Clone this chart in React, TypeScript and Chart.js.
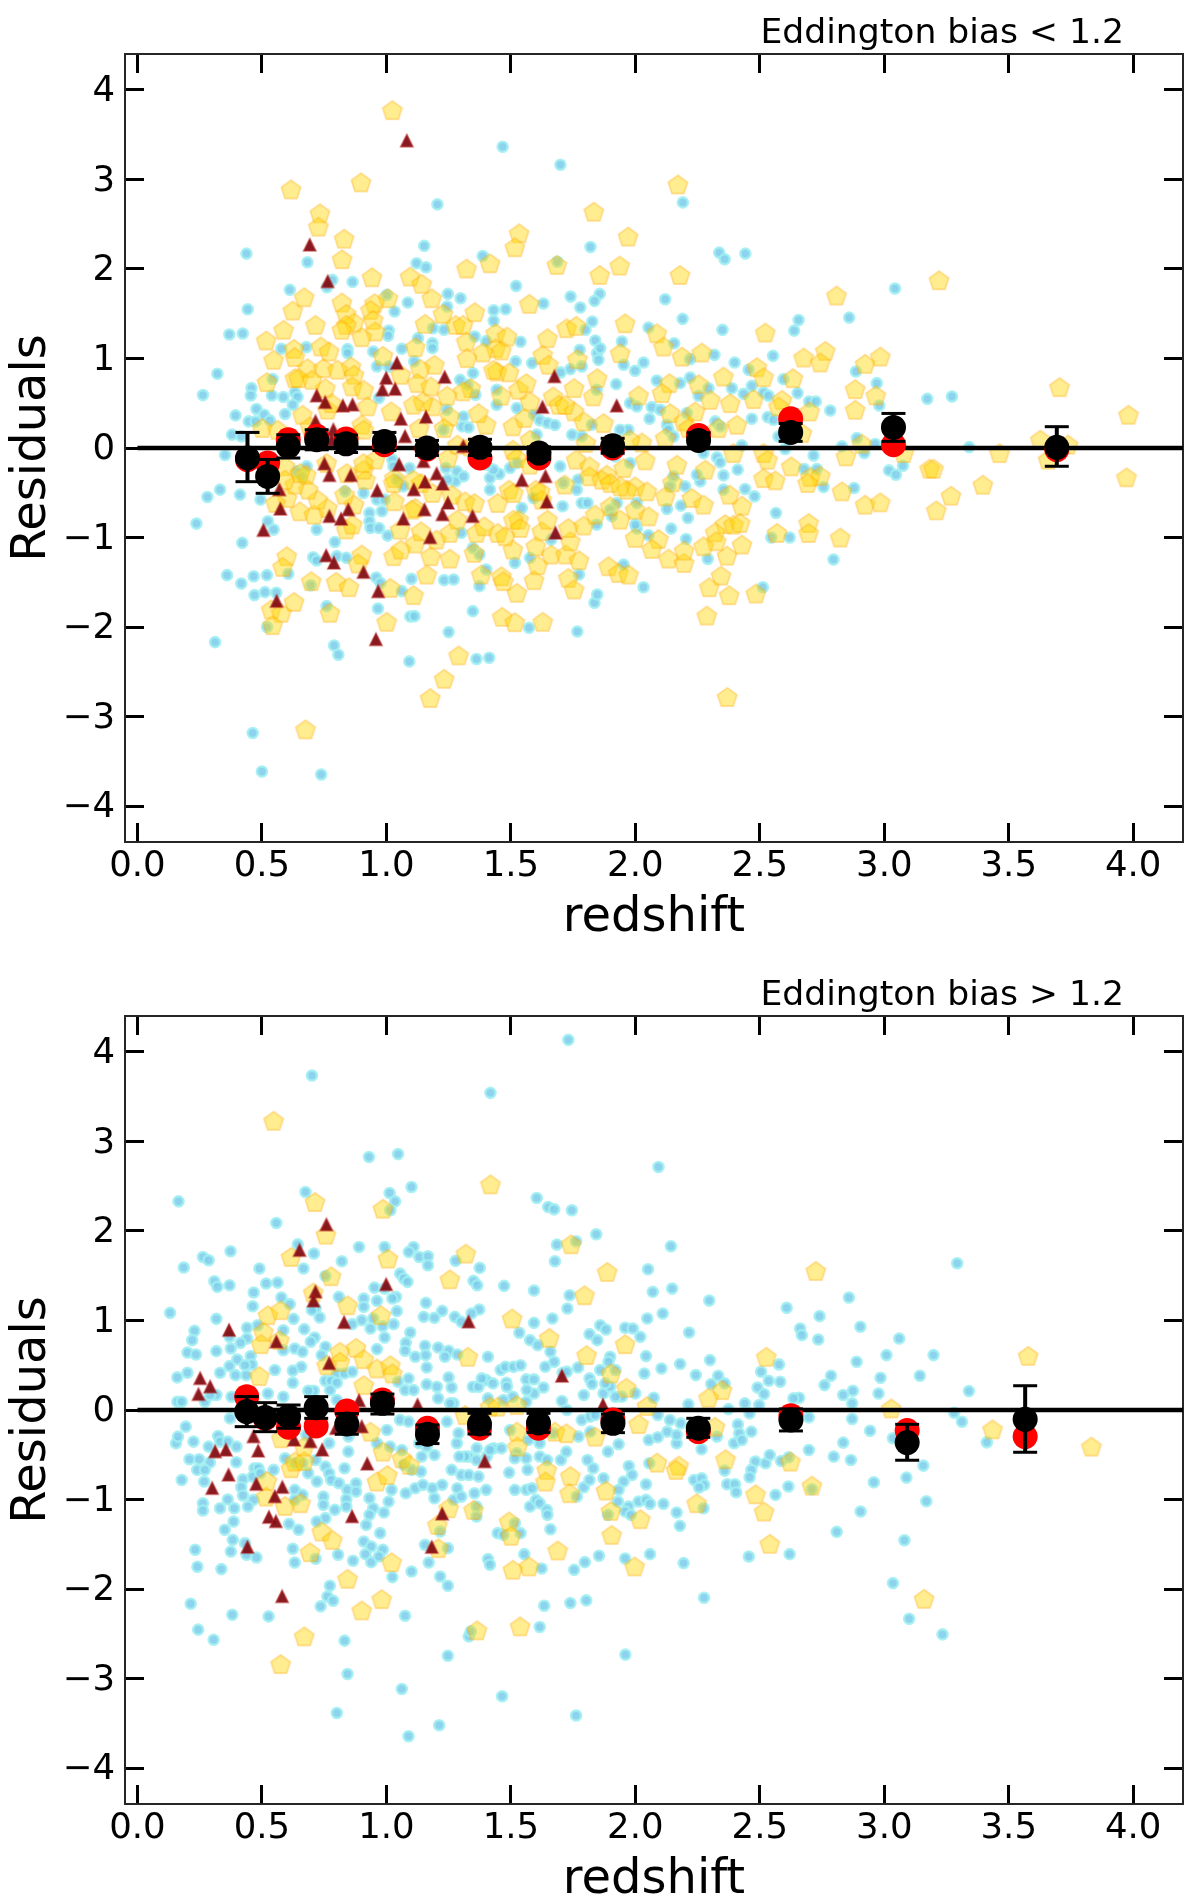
import React, { useEffect, useRef } from "react";
import { Chart, registerables } from "chart.js";

Chart.register(...registerables);

type P = number[];

const xTicks = [0, 0.5, 1, 1.5, 2, 2.5, 3, 3.5, 4];
const yTicks = [-4, -3, -2, -1, 0, 1, 2, 3, 4];

const topTitle = "Eddington bias < 1.2";
const bottomTitle = "Eddington bias > 1.2";

const topBinX = [.442,.523,.606,.72,.838,.992,1.163,1.376,1.613,1.909,2.254,2.624,3.037,3.693];
const topRed = [-.13,-.168,.092,.13,.10,.036,-.012,-.112,-.112,0,.14,.326,.036,-.018];
const topBlack = [-.112,-.317,.018,.092,.047,.073,0,.007,-.057,.025,.085,.174,.23,.007];
const topHi = [.174,-.128,.148,.204,.144,.174,.085,.097,.013,.108,.17,.274,.386,.238];
const topLo = [-.376,-.506,-.112,-.02,-.05,-.027,-.083,-.083,-.127,-.058,0,.074,.074,-.204];

const botBinX = [.439,.513,.607,.718,.841,.984,1.165,1.374,1.611,1.91,2.253,2.625,3.092,3.566];
const botRed = [.149,-.093,-.193,-.178,-.011,.112,-.204,-.204,-.204,-.111,-.241,-.063,-.23,-.297];
const botBlack = [-.018,-.085,-.074,.026,-.156,.074,-.271,-.156,-.145,-.149,-.204,-.111,-.364,-.104];
const botHi = [.15,.082,.056,.149,-.04,.178,-.167,-.037,-.037,-.045,-.093,.012,-.16,.271];
const botLo = [-.186,-.242,-.204,-.093,-.271,-.045,-.375,-.268,-.25,-.253,-.305,-.234,-.561,-.472];

const topBlue: P[] = [
[1.467,3.364],[1.699,3.164],[1.205,2.721],[1.152,2.257],[.438,2.171],[1.387,2.145],[1.82,2.245],[1.121,2.063],[1.159,2.019],[.683,2.074],[1.687,2.08],[.783,1.877],[.864,1.855],[.761,1.796],[.612,1.766],[1.521,1.81],[1.247,1.721],[1.298,1.673],[1.002,1.71],[1.74,1.691],[1.857,1.721],[1.631,1.613],[1.836,1.643],[1.086,1.625],[1.033,1.524],[.443,1.55],[1.779,1.569],[1.244,1.58],[1.431,1.539],[1.479,1.55],[1.431,1.42],[1.827,1.413],[.369,1.268],[.423,1.279],[1.01,1.312],[1.007,1.253],[1.187,1.338],[1.231,1.32],[1.8,1.32],[1.355,1.245],[1.401,1.193],[1.539,1.186],[1.839,1.2],[1.185,1.171],[1.185,1.115],[1.127,1.227],[.578,1.108],[.678,1.126],[.844,1.104],[.844,1.06],[.947,1.078],[1.062,1.108],[.321,.829],[1.777,1.097],[1.112,.967],[1.519,.967],[1.585,.948],[1.846,1.06],[.962,.911],[1.009,.911],[1.348,.836],[1.739,.881],[1.785,.911],[1.7,.844],[.543,.77],[.458,.669],[.455,.587],[.263,.591],[.54,.587],[.586,.569],[.632,.621],[.643,.569],[.624,.483],[.478,.435],[.394,.364],[.509,.372],[.593,.379],[.447,.297],[.475,.297],[.532,.309],[.97,.558],[1.358,.595],[1.524,.446],[1.593,.372],[1.616,.309],[1.647,.279],[1.677,.257],[1.746,.149],[1.785,.13],[.38,.149],[.417,.13],[.352,-.078],
[.332,-.465],[.281,-.547],[.412,-.521],[.494,-.577],[.237,-.844],[.524,-.818],[.547,-.911],[.72,-.911],[.421,-1.06],[.793,-1.049],[.706,-1.22],[.72,-1.257],[.801,-1.208],[.839,-1.227],[.36,-1.42],[.417,-1.513],[.467,-1.432],[.52,-1.42],[.606,-1.405],[.47,-1.643],[.512,-1.61],[.558,-1.617],[.696,-1.532],[.959,-1.446],[.976,-1.506],[1.101,-1.461],[1.232,-1.476],[1.27,-1.469],[1.401,-1.357],[1.374,-1.543],[1.062,-1.598],[.76,-1.766],[.966,-1.792],[1.096,-1.881],[1.113,-1.878],[1.347,-1.822],[1.573,-2.008],[1.767,-2.049],[1.25,-2.056],[.521,-2.0],[.312,-2.168],[.79,-2.205],[.807,-2.309],[1.092,-2.383],[1.362,-2.357],[1.413,-2.342],[.463,-3.183],[.5,-3.613],[.738,-3.647],[1.836,-1.729],[1.847,-1.636],[1.516,-1.283],[1.577,-1.227],[1.774,-1.413],[1.374,-1.19],[1.347,-1.116],[1.662,-1.023],[1.301,-.948],[.932,-.725],[.932,-.818],[.936,-.893],[.97,-.893],[1.005,-.978],[.982,-.707],[.962,-.577],[.993,-.577],[1.239,-.223],[1.278,-.372],[1.093,-.223],[1.416,-.465],[1.247,-.353],[1.708,-.651],[1.785,-.614],[1.808,-.614],[1.77,-.354],[1.454,-.29],[1.024,-.13],[1.447,-.28],[1.416,-.335],
[1.845,1.207],[1.859,1.114],[1.852,.984],[.392,.122],[.426,.11],[1.296,.761],[1.326,.705],[1.443,.65],[1.517,.445],[1.443,.482],[1.845,.65],[1.972,.204],[1.745,.148],[1.825,.26],[1.243,.427],[1.31,.352],[1.305,.241],[1.33,.23],[1.229,.204],[.68,-.205],[.64,-.261],[.66,-.317],[.834,-.484],[.908,-.503],[.928,-.707],[.981,-.707],[.934,-.837],[.961,-.893],[1.001,-.967],[1.028,-.205],[1.042,-.354],[1.068,-.428],[1.242,-.224],[1.283,-.261],[1.31,-.317],[1.43,-.242],[1.457,-.298],[1.403,-.187],[1.497,-.224],[1.524,-.168],[1.417,-.466],[1.544,-.67],[1.591,-.558],[1.711,-.651],[1.772,-.614],[1.698,-.205],[1.765,-.373],[1.711,-.391],[1.845,-.856],[1.765,-.466],[1.604,.149],[1.852,-1.637],[1.832,-1.737],
[1.939,.204],[1.966,.211],[2.12,1.661],[2.19,1.442],[2.35,1.319],[2.656,1.43],[2.638,1.311],[2.859,1.456],[2.053,1.345],[1.946,1.189],[2.156,1.17],[2.318,1.04],[2.553,1.029],[2.033,.955],[1.999,.862],[2.399,.955],[1.953,.929],[2.22,.992],[2.886,.854],[2.455,.873],[2.97,.724],[2.086,.754],[2.22,.787],[2.18,.724],[2.595,.769],[2.468,.694],[2.388,.668],[1.923,.713],[2.294,.668],[2.254,.583],[1.979,.501],[2.006,.464],[2.066,.456],[2.1,.427],[2.435,.605],[2.515,.62],[2.535,.583],[2.652,.613],[3.173,.549],[3.272,.575],[2.98,.475],[2.698,.52],[2.725,.52],[2.783,.419],[2.057,.326],[2.468,.326],[2.532,.345],[2.555,.315],[2.127,.259],[2.321,.297],[2.341,.241],[2.575,.129],[2.602,-.012],[2.428,.029],[2.83,.018],[2.89,.111],[2.92,-.057],[2.964,.044],[3.341,.01],[2.716,-.083],[2.328,-.105],[2.341,-.161],[2.274,-.057],[3.075,-.198],[3.019,-.25],[3.047,-.298],[2.411,-.242],[2.354,-.306],[2.729,-.235],[2.678,-.235],[2.261,-.373],[2.247,-.298],[2.354,-.465],[2.441,-.458],[2.479,-.54],[2.756,-.436],[2.879,-.447],[2.2,-.428],[2.183,-.644],[2.127,-.681],[2.211,-.781],[2.144,-.9],[2.204,-1.016],[2.053,-.975],[2.006,-.9],[2.565,-.726],[2.546,-1.0],[2.62,-1.0],[2.796,-1.246],[2.291,-1.239],[2.512,-1.555],[2.033,-1.555],[1.953,-1.302],[2.207,.39],[2.133,.204],[2.153,.129],[1.919,-.094],[1.979,-.168],[1.926,-.614],[1.899,-.689],[2.006,-.614],[2.0,-.856],[1.906,-.763],[2.14,-.428],[2.153,-.317],
[2.191,2.743],[2.337,2.182],[2.359,2.108],[2.442,2.171],[3.043,1.781],[1.867,1.721],[1.859,-1.636],
];

const topYellow: P[] = [
[1.024,3.773],[.617,2.888],[.898,2.967],[1.833,2.639],[.733,2.621],[.727,2.472],[1.533,2.398],[1.516,2.242],[.83,2.338],[.822,2.108],[1.322,2.004],[1.416,2.063],[1.685,2.045],[1.095,1.914],[1.142,1.833],[.942,1.907],[1.857,1.933],[.67,1.684],[1.182,1.673],[1.006,1.673],[.821,1.625],[.624,1.535],[.952,1.617],[1.574,1.61],[1.355,1.517],[1.227,1.498],[.839,1.498],[.936,1.543],[.715,1.375],[1.155,1.387],[.947,1.431],[.587,1.32],[.87,1.401],[.839,1.375],[.821,1.32],[1.278,1.375],[1.308,1.375],[1.724,1.338],[1.762,1.364],[.955,1.301],[.901,1.238],[1.439,1.283],[1.485,1.245],[1.647,1.227],[.517,1.201],[1.321,1.19],[.737,1.134],[1.116,1.126],[1.439,1.115],[1.462,1.089],[.77,1.078],[.629,1.108],[.632,1.015],[.547,.985],[1.628,1.041],[1.324,1.004],[1.388,1.067],[.986,1.03],[1.767,.993],[1.651,.929],[.858,.911],[.683,.892],[1.193,.929],[1.136,.885],[.747,.892],[.804,.874],[1.444,.855],[1.493,.844],[.632,.781],[.647,.781],[.52,.736],[.87,.818],[1.847,.781],[1.124,.725],[1.178,.688],[1.058,.818],[.755,.669],[.701,.762],[.863,.688],[.909,.651],[1.339,.669],[1.308,.632],[1.244,.584],[1.531,.651],[1.562,.725],[1.754,.669],[1.577,.52],[1.462,.584],[1.67,.576],[1.693,.483],[1.754,.409],[1.831,.576],[1.019,.409],[.924,.465],[1.185,.465],[1.147,.52],[1.109,.483],[.663,.372],[.763,.428],[.901,.26],[1.401,.26],[1.37,.39],[1.255,.353],[1.132,.223],[1.231,.223],[.501,.223],[1.508,.242],[1.555,.335],[1.793,.297],[.909,.204],[.563,.204],[1.285,.037],[1.508,-.019],[1.577,.093],[1.801,.056],[.955,-.13],[1.247,-.112],[1.524,-.112],[1.762,-.13],[1.577,-.186],[1.816,-.204],[.593,-.204],
[.6,-1.208],[.583,-1.328],[.901,-1.19],[.886,-1.29],[1.029,-1.208],[1.058,-1.134],[1.116,-1.067],[1.178,-1.208],[1.178,-1.19],[1.255,-1.235],[1.201,-1.023],[1.162,-1.413],[1.381,-1.413],[1.462,-1.431],[1.47,-1.487],[1.593,-1.476],[1.731,-1.45],[1.754,-1.58],[1.524,-1.617],[1.662,-1.19],[1.72,-1.19],[1.774,-1.253],[1.608,-1.309],[1.352,-1.171],[1.508,-1.134],[1.739,-1.041],[1.731,-.893],[1.793,-.866],[1.839,-.744],[1.624,-.93],[1.6,-1.097],[1.647,-.8],[.698,-1.487],[.798,-1.495],[.85,-1.554],[1.016,-1.562],[1.109,-1.643],[.629,-1.718],[.537,-1.803],[.578,-1.84],[.773,-1.84],[.77,-1.85],[.543,-1.978],[1.001,-1.941],[1.465,-1.885],[1.516,-1.945],[1.628,-1.941],[1.29,-2.316],[1.232,-2.577],[1.176,-2.792],[.675,-3.142],[.652,-.707],[.709,-.744],[.763,-.67],[.839,-.91],[.863,-.855],[.87,-.632],[.724,-.577],[.601,-.558],[.555,-.613],[1.055,-.912],[1.047,-.893],[1.255,-.948],[1.116,-.67],[1.139,-.93],[1.032,-.595],[1.285,-.8],[1.362,-.948],[1.447,-.614],[1.447,-.948],[1.493,-.465],[1.6,-.465],[1.531,-.8],[1.624,-.577],[1.716,-.409],[1.816,-.316],[1.477,-.985],[1.316,-.595],[1.262,-.521],[1.354,-.614],[1.393,-.874],[1.139,-.391],[1.185,-.502],[1.032,-.335],[.916,-.354],[.832,-.521],[.686,-.465],[.632,-.409],[.593,-.354],[.678,-.298],[.909,-.242],
[.693,.241],[.66,.371],[.78,.501],[.868,.78],[.76,.668],[.921,.445],[1.021,.408],[1.176,.445],[1.243,.594],[1.176,.724],[1.122,.873],[1.196,.929],[1.062,.836],[1.343,.668],[1.31,.631],[1.43,.873],[1.484,.854],[1.564,.743],[1.631,1.04],[1.651,.91],[1.524,.65],[1.584,.538],[1.671,.557],[1.718,.482],[1.765,.39],[1.792,.297],[1.872,.278],[1.758,.687],[1.839,.575],[1.845,.799],[1.403,.278],[1.37,.408],[1.256,.352],[1.189,.464],[1.129,.222],[1.51,.241],[1.557,.315],[1.229,.222],[1.249,.334],[1.51,-.019],[1.336,.018],[.908,-.168],[.955,-.131],[.76,-.168],[.586,-.242],[.653,-.28],[.693,-.503],[.606,-.558],[.653,-.707],[.72,-.726],[.841,-.28],[.914,-.354],[.834,-.503],[.874,-.614],[.76,-.651],[1.028,-.391],[1.035,-.596],[1.109,-.354],[1.189,-.503],[1.269,-.521],[1.102,-.688],[1.31,-.614],[1.363,-.614],[1.443,-.614],[1.296,-.819],[1.249,-.93],[1.135,-.949],[1.048,-.912],[.861,-.893],[1.45,-.93],[1.51,-.8],[1.537,-.893],[1.731,-.893],[1.792,-.874],[1.845,-.744],[1.899,-.651],[1.885,-.298],[1.865,-.354],[1.899,-.391],[1.812,-.205],[1.618,-.484],[1.51,-.503],[1.597,-1.097],[1.51,-1.135],[1.35,-1.153],[1.664,-1.19],[1.772,-1.246],[1.892,-1.32],[1.376,-1.432],[1.463,-1.469],[1.176,-1.209],[1.256,-1.228],[1.028,-1.2],[1.062,-1.116],[1.115,-1.06],[.874,-1.283],[.693,-1.469],[.847,-1.543],[1.022,-1.562],[.626,-1.711],
[1.959,1.393],[2.086,1.282],[2.522,1.289],[2.113,1.133],[1.939,1.059],[2.267,1.066],[2.187,1.021],[2.676,1.01],[2.763,1.085],[2.743,.955],[2.923,.94],[2.984,1.021],[2.488,.903],[2.515,.791],[2.354,.798],[2.633,.78],[2.883,.657],[2.966,.587],[2.254,.713],[2.137,.724],[2.013,.587],[2.107,.613],[2.475,.546],[2.381,.501],[2.589,.538],[2.575,.464],[2.7,.408],[2.883,.427],[2.301,.538],[2.14,.39],[2.24,.408],[2.408,.26],[2.194,.297],[2.12,.111],[2.214,.222],[2.334,.222],[2.669,.167],[2.91,.048],[2.026,.062],[1.979,.092],[2.394,-.056],[2.515,-.056],[2.531,-.131],[2.846,-.094],[3.078,-.057],[2.04,-.138],[2.167,-.187],[2.626,-.205],[3.182,-.231],[3.198,-.231],[3.463,-.057],[2.281,-.242],[2.703,-.324],[2.743,-.31],[2.515,-.336],[2.562,-.361],[2.692,-.391],[2.83,-.484],[3.396,-.41],[3.268,-.532],[3.209,-.696],[2.923,-.633],[2.984,-.607],[2.227,-.558],[2.274,-.633],[2.428,-.644],[2.149,-.384],[2.12,-.54],[2.378,-.521],[2.696,-.837],[2.696,-.949],[2.569,-.949],[2.823,-1.0],[1.999,-1.004],[2.093,-1.016],[2.361,-.849],[2.394,-.856],[2.421,-.837],[2.321,-.941],[2.325,-1.042],[2.274,-1.097],[2.428,-1.079],[2.066,-1.127],[2.133,-1.235],[2.196,-1.283],[2.196,-1.146],[2.368,-1.202],[1.932,-1.395],[1.973,-1.413],[2.344,-1.425],[2.297,-1.555],[2.377,-1.644],[2.484,-1.625],[2.287,-1.871],[1.953,-.224],[1.999,-.428],[1.966,-.466],[1.939,-.428],[2.046,-.484],[2.053,-.763],[1.999,-.689],[1.939,-.8],
[2.171,2.944],[1.971,2.361],[1.937,2.037],[2.179,1.933],[3.22,1.874],[2.808,1.703],[3.704,.68],[3.981,.372],[3.627,.093],[3.738,.037],[3.658,-.13],[3.973,-.327],[2.369,-2.781],
];

const topTri: P[] = [
[1.042,.947],[.999,.78],[.984,.65],[1.035,.657],[1.234,.791],[1.675,.798],[.72,.583],[.754,.509],[.825,.471],[.864,.482],[1.627,.456],[1.925,.471],[1.058,.323],[1.159,.345],[.715,.297],[.787,.204],[.78,.092],[1.075,.129],[1.309,.018],[1.051,-.187],[1.149,-.15],[.751,-.176],[.771,-.306],[.857,-.306],[.57,-.465],[.574,-.681],[1.544,-.361],[1.639,-.317],[1.202,-.287],[1.155,-.38],[1.226,-.402],[1.11,-.465],[.963,-.477],[1.247,-.614],[1.644,-.603],[1.153,-.689],[1.225,-.744],[1.346,-.763],[.847,-.689],[.771,-.763],[.818,-.793],[1.068,-.793],[.506,-.919],[1.679,-.949],[1.176,-1.0],[.758,-1.202],[.789,-1.283],[.908,-1.387],[.967,-1.603],[.559,-1.711],[1.082,3.431],[.692,2.268],[.764,1.859],[.958,-2.138],
];

const botBlue: P[] = [
[1.731,4.133],[.701,3.735],[1.418,3.542],[.93,2.825],[1.047,2.858],[1.101,2.49],[.675,2.434],[1.013,2.423],[1.035,2.33],[.165,2.33],[1.604,2.367],[1.65,2.267],[1.674,2.241],[1.745,2.23],[1.016,2.23],[.558,2.089],[1.843,1.962],[.644,1.85],[.89,1.821],[.993,1.821],[1.109,1.821],[1.685,1.847],[1.762,1.884],[.709,1.747],[1.09,1.765],[.263,1.709],[.286,1.672],[.374,1.773],[1.132,1.709],[1.167,1.717],[1.167,1.616],[1.278,1.665],[1.677,1.661],[.821,1.661],[.49,1.58],[.186,1.591],[.667,1.58],[1.375,1.587],[1.055,1.523],[1.07,1.468],[1.085,1.431],[.755,1.497],[.309,1.438],[.321,1.375],[.37,1.393],[.517,1.412],[.563,1.423],[1.35,1.442],[1.365,1.393],[1.473,1.386],[1.593,1.334],[.952,1.367],[.993,1.356],[1.039,1.263],[1.024,1.245],[.467,1.312],[.578,1.256],[.809,1.263],[.463,1.159],[.612,1.182],[1.736,1.282],[1.159,1.196],[.909,1.245],[.909,1.152],[.962,1.219],[.131,1.085],[.716,1.133],[.732,1.033],[.701,1.115],[1.224,1.107],[1.042,1.104],[1.15,1.04],[1.193,1.029],[1.373,1.122],[1.275,1.04],[1.342,1.077],[1.727,1.133],[.317,1.018],[.627,1.018],[1.667,1.022],[1.593,.973],[1.301,.985],[.901,1.003],[.947,1.022],[.985,.936],[1.029,.959],[.863,.959],[.936,.91],[.44,.918],[.483,.947],[.586,.891],[.67,.903],[.229,.884],[1.096,.865],[1.534,.862],[1.859,.947],[1.816,.847],[.22,.78],[.712,.81],[.993,.81],[.37,.817],[.44,.799],[.414,.75],[1.078,.75],[1.577,.78],[1.847,.78],[.375,.687],[.201,.642],[.235,.62],[.317,.657],[.455,.602],[.586,.668],[.632,.687],[.663,.65],[.696,.762],[.755,.706],[.962,.68],[1.075,.661],[1.608,.724],[1.659,.65],[1.116,.594],[1.155,.717],[1.158,.613],[1.208,.698],[1.25,.661],[1.235,.594],[1.285,.62],[1.408,.594],[.401,.564],[.46,.509],[.37,.49],[.332,.416],[.432,.5],[.394,.389],[.437,.389],[.201,.416],[.16,.364],[.552,.446],[.658,.482],[.624,.44],[.616,.408],[.624,.304],[.74,.613],[.801,.408],[.832,.408],[.863,.427],[.755,.327],[.778,.327],[.709,.215],[.686,.215],[.801,.304],[1.162,.475],[1.459,.446],[1.478,.482],[1.511,.482],[1.539,.5],[1.562,.342],[1.593,.342],[1.631,.252],[1.708,.416],[1.674,.538],[1.77,.475],[1.816,.353],[1.089,.352],[1.047,.315],[1.075,.222],[1.109,.222],[1.162,.286],[1.208,.13],[1.25,.364],[1.262,.252],[1.347,.259],[1.37,.259],[1.401,.334],[1.428,.297],[1.482,.304],[1.408,.13],[1.508,.148],[1.27,.074],[1.593,.185],[1.562,.092],[1.793,.167],[.16,.092],[.178,.092],[.271,.092],[.317,.167],[.378,.148],[.524,.185],[.586,.148],
[.587,.149],[.68,.223],[.71,.23],[.774,.223],[.801,.112],[1.089,.353],[1.069,.242],[1.156,.29],[1.203,.26],[1.263,.26],[1.256,.074],[1.269,.082],[1.196,.093],[1.343,.26],[1.383,.353],[1.43,.297],[1.484,.26],[1.564,.335],[1.564,.223],[1.604,.149],[1.631,.26],[1.47,.112],[.171,.093],[.265,.074],[.292,.167],[.319,.167],[.372,-.093],[.225,-.353],[.848,-.297],[1.002,-.223],[1.015,-.409],[.962,-.372],[1.162,-.409],[1.142,-.52],[1.055,-.111],[1.089,-.13],[1.149,-.223],[1.243,-.13],[1.283,-.372],[1.29,-.26],[1.33,-.52],[1.363,-.428],[1.403,-.52],[1.43,-.428],[1.524,-.483],[1.571,-.334],[1.497,-.223],
[.155,-.372],[.163,-.297],[.194,-.186],[.228,-.353],[.324,-.29],[.332,-.353],[.286,-.409],[.363,-.353],[.398,-.409],[.209,-.55],[.248,-.55],[.291,-.587],[.24,-.669],[.271,-.669],[.178,-.781],[.268,-.799],[.397,-.584],[.424,-.773],[.417,-.862],[.424,-.955],[.466,-1.004],[.444,-1.078],[.363,-1.0],[.332,-1.097],[.389,-1.097],[.263,-1.041],[.263,-1.123],[.386,-1.245],[.351,-1.338],[.383,-1.45],[.432,-1.487],[.375,-1.58],[.438,-1.617],[.478,-1.647],[.232,-1.561],[.241,-1.751],[.337,-1.777],[.214,-2.164],[.381,-2.286],[.527,-2.305],[.244,-2.453],[.306,-2.565],[.47,-.651],[.486,-.651],[.463,-.744],[.493,-.706],[.547,-.669],[.593,-.539],[.632,-.595],[.663,-.595],[.686,-.706],[.716,-.558],[.721,-.799],[.632,-.892],[.663,-.948],[.632,-1.004],[.755,-.632],[.77,-.706],[.778,-.781],[.809,-.818],[.832,-.651],[.878,-.818],[.843,-.892],[.839,-.996],[.839,-1.078],[.878,-.911],[.747,-.967],[.747,-1.059],[.793,-1.115],[.755,-1.208],[.72,-1.245],[.763,-1.171],[.609,-1.272],[.647,-1.338],[.932,-.985],[.947,-1.097],[.932,-1.171],[.99,-1.145],[1.009,-1.023],[1.021,-.892],[.919,-1.283],[.975,-1.375],[.983,-1.413],[.909,-1.468],[.939,-1.524],[.986,-1.561],[.916,-1.61],[.939,-1.699],[.97,-1.636],[.866,-1.684],[.806,-1.617],[.624,-1.55],[.632,-1.703],[.716,-1.662],[.773,-1.963],[.763,-2.082],[.786,-2.13],[.736,-2.193],[.832,-2.576],[.844,-2.948],[.801,-3.383],[1.062,-3.115],[1.089,-3.643],[1.212,-3.52],[1.075,-2.298],[1.024,-1.866],[1.101,-1.803],[1.216,-1.859],[1.247,-1.963],[1.17,-1.703],[1.155,-1.506],[1.247,-1.543],[1.247,-2.744],[1.331,-2.528],[1.339,-2.472],[1.616,-2.424],[1.465,-3.197],[1.634,-2.186],[1.739,-2.156],[1.803,-2.126],[1.762,-3.412],[1.408,-1.665],[1.416,-1.729],[1.554,-1.61],[1.624,-1.77],[1.754,-1.785],[1.797,-1.699],[1.854,-1.628],[1.447,-1.375],[1.47,-1.394],[1.516,-1.264],[1.539,-1.375],[1.659,-1.331],[1.216,-1.357],[1.577,-1.078],[1.601,-1.004],[1.616,-1.041],[1.644,-1.115],[1.647,-1.171],[1.354,-.93],[1.362,-1.078],[1.362,-1.19],[1.401,-.892],[1.493,-.699],[1.516,-.892],[1.562,-.892],[1.567,-.669],[1.585,-.874],[1.262,-.669],[1.301,-.725],[1.331,-.725],[1.37,-.744],[1.362,-.558],[1.316,-.52],[1.285,-.372],[1.37,-.435],[1.078,-.93],[1.116,-.874],[1.147,-.836],[1.185,-.874],[1.224,-.836],[1.285,-.874],[1.27,-1.004],[1.301,-.967],[1.193,-.985],[1.101,-.669],[1.139,-.688],[1.07,-.613],[1.193,-.502],[1.132,-.372],[1.062,-.446],[1.009,-.223],[.97,-.372],[.847,-.465],[.77,-.372],[.678,-.279],[.593,-.111],[1.516,-.539],[1.562,-.539],[1.616,-.52],[1.701,-.558],[1.723,-.465],[1.808,-.558],[1.831,-.65],[1.793,-.863],[1.816,-.781],[1.462,-.428],[1.416,-.446],[1.616,-.372],[1.67,-.26],[1.293,-.52],
[1.658,.651],[1.678,.558],[1.638,.483],[1.772,.483],[1.725,.428],[1.812,.372],[1.826,.29],[1.788,.167],[1.705,.1],[1.725,0],[1.785,-.111],[1.819,-.074],[1.839,-.056],[1.819,-.242],[1.772,-.297],[1.698,-.558],[1.725,-.465],[1.645,-.558],[1.812,-.558],[1.832,-.643],[1.819,-.773],[1.792,-.874],[1.765,-.966],[1.645,-1.134],[1.658,-1.331],[1.859,.446],[1.899,.595],[1.892,.539],[1.872,.186],[1.946,.149],[2.0,.186],[1.899,.26],[1.879,.297],[1.872,-.762],[1.953,-.799],[1.933,-.892],[1.93,-1.022],[1.973,-1.078],
[2.093,2.713],[2.143,1.828],[2.051,1.572],[3.293,1.639],[2.07,1.319],[2.148,1.356],[2.297,1.222],[2.858,1.256],[2.608,1.141],[2.74,1.048],[2.048,1.022],[2.11,1.077],[1.867,.947],[1.882,.899],[1.959,.918],[1.99,.91],[2.02,.817],[2.216,.865],[2.662,.91],[2.669,.836],[2.735,.787],[2.904,.929],[3.06,.799],[2.043,.602],[2.105,.464],[2.036,.408],[2.18,.513],[2.243,.39],[2.3,.557],[2.333,.382],[2.305,.29],[2.359,.297],[1.897,.602],[1.897,.538],[1.92,.446],[1.897,.26],[1.874,.279],[1.997,.185],[1.92,.148],[2.074,.137],[2.889,.538],[3.009,.613],[3.198,.613],[2.577,.509],[2.505,.427],[2.536,.327],[2.582,.315],[2.491,.252],[2.517,.178],[2.786,.382],[2.76,.278],[2.985,.36],[3.143,.382],[2.835,.167],[2.874,.215],[2.977,.185],[3.34,.211],[2.658,.137],[2.635,.13],[2.871,.074],[2.497,.055],[2.44,.074],[2.213,.063],[2.374,.01],[3.281,-.03],[3.312,-.131],[2.459,-.038],[2.09,-.056],[2.697,-.082],[2.871,-.101],[2.943,-.231],[2.139,-.112],[2.182,-.149],[2.412,-.161],[2.466,-.242],[2.417,-.261],
[2.697,-.446],[2.797,-.521],[2.866,-.558],[2.835,-.364],[3.035,-.316],[3.089,-.755],[3.157,-.621],[2.958,-.807],[3.169,-1.019],[2.905,-1.134],[2.809,-1.361],[3.081,-1.454],[2.62,-1.61],[2.456,-1.636],[3.035,-1.933],[3.1,-2.331],[3.234,-2.506],[3.412,-.361],[2.054,-.335],[2.09,-.305],[2.128,-.242],[2.166,-.372],[2.056,-.595],[1.974,-.625],[1.987,-.725],[1.951,-.8],[1.874,-.762],[1.928,-.892],[2.043,-.829],[2.266,-.439],[2.359,-.677],[2.236,-.781],[2.266,-.762],[2.277,-.836],[2.256,-.866],[2.369,-.829],[2.4,-.829],[2.405,-.918],[2.482,-.576],[2.466,-.669],[2.459,-.751],[2.523,-.595],[2.54,-.502],[2.585,-.569],[2.616,-.528],[2.615,-.855],[2.563,-.948],[2.709,-.885],[2.013,-1.022],[2.043,-1.004],[2.059,-1.048],[2.113,-1.048],[2.166,-1.145],[2.179,-1.294],[2.274,-1.097],[1.974,-1.078],[1.959,-1.134],[1.982,-1.171],[1.89,-1.171],[1.959,-1.658],[2.059,-1.61],[2.194,-1.71],[1.859,-1.636],[2.276,-2.097],[1.96,-2.732],[2.412,-.271],[2.397,-.372],[2.428,-.335],[1.89,-.465],[1.933,-.383],[2.328,-.297],[2.166,-.279],
];

const botYellow: P[] = [
[.547,3.23],[1.418,2.52],[.713,2.323],[.986,2.248],[.757,1.958],[1.742,1.851],[.617,1.709],[1.006,1.691],[1.319,1.747],[.778,1.494],[1.255,1.46],[.706,1.312],[1.796,1.282],[.844,1.17],[.524,1.059],[.575,1.115],[.978,1.059],[1.505,1.022],[.506,.873],[.57,.78],[.497,.735],[1.654,.806],[.813,.65],[.878,.695],[1.327,.594],[1.804,.613],[.909,.568],[.813,.538],[.76,.501],[.962,.464],[1.016,.501],[1.024,.408],[.49,.379],[.909,.278],[1.416,.037],[1.447,.037],[1.524,.055],[1.316,-.056],
[1.887,1.542],[2.725,1.553],[1.959,.735],[2.526,.594],[3.578,.605],[1.902,.408],[1.964,.249],[2.348,.222],[2.294,.137],[2.047,.044],[3.028,.018],[2.013,-.157],[2.32,-.186],[3.435,-.216],[3.832,-.409],[2.087,-.587],[2.174,-.621],[2.163,-.669],[2.362,-.55],[2.623,-.576],[2.709,-.844],[2.246,-1.041],[2.483,-.941],[2.517,-1.134],[2.54,-1.494],[1.997,-1.747],[1.905,-1.394],[2.02,-1.219],[1.902,-1.127],[1.882,-.9],[3.16,-2.108],
[.52,-.792],[.517,-.967],[.593,-1.071],[.655,-1.041],[.617,-.651],[.632,-.576],[.67,-.569],[.578,-.316],[.67,-.409],[.936,-.242],[.986,-.465],[1.062,-.539],[1.093,-.613],[.962,-.799],[1.004,-.725],[1.25,-1.097],[1.35,-1.115],[1.205,-1.283],[.74,-1.357],[.783,-1.45],[.693,-1.588],[1.209,-1.543],[1.021,-1.699],[.844,-1.885],[1.508,-1.784],[1.573,-1.747],[1.688,-1.569],[1.493,-1.245],[1.501,-1.405],[.901,-2.238],[.981,-2.112],[1.364,-2.461],[1.537,-2.416],[.67,-2.528],[.575,-2.837],[1.524,-.242],[1.527,-.409],[1.677,-.242],[1.723,-.26],[1.839,-.298],[1.644,-.669],[1.639,-.799],[1.739,-.736],[1.736,-.929],[1.685,-1.561],
];

const botTri: P[] = [
[.651,1.784],[.999,1.402],[.715,1.32],[.707,1.219],[.83,.978],[1.33,.985],[.368,.892],[.558,.762],[.77,.52],[.252,.353],[.292,.26],[.245,.175],[.89,.104],[1.125,.056],[.466,-.297],[.629,-.334],[.695,-.353],[.742,-.446],[.355,-.446],[.312,-.465],[.485,-.457],[.923,-.602],[1.395,-.576],[.366,-.725],[.3,-.874],[.477,-.829],[.582,-.862],[.552,-.966],[.528,-1.197],[.556,-1.245],[.862,-1.19],[1.224,-1.16],[1.182,-1.532],[.442,-1.532],[.581,-2.082],[1.705,.379],[1.87,.056],[.798,-.204],[.901,-.186],[.759,2.07],
];

const zeroLine: P[] = [[0, 0], [4.2, 0]];

const FONT = "'DejaVu Sans'";
// The same mark was read twice from overlapping crops; keep one reading of each.
const oneReading = (a: P[]) =>
  a.filter((p, i) => !a.slice(0, i).some((q) => Math.abs(q[0] - p[0]) < 0.014 && Math.abs(q[1] - p[1]) < 0.04));
const pts = (a: P[]) => oneReading(a).map(([x, y]) => ({ x, y }));

function sprite(kind: "pentagon" | "triangle"): HTMLCanvasElement {
  const c = document.createElement("canvas");
  c.width = 28;
  c.height = 28;
  const g = c.getContext("2d")!;
  g.beginPath();
  if (kind === "pentagon") {
    const R = 10.2;
    const cy = 14 + 0.095 * R;
    for (let i = 0; i < 5; i++) {
      const a = -Math.PI / 2 + (i * 2 * Math.PI) / 5;
      const px = 14 + R * Math.cos(a);
      const py = cy + R * Math.sin(a);
      if (i) g.lineTo(px, py);
      else g.moveTo(px, py);
    }
    g.closePath();
    g.fillStyle = "rgba(255,215,0,0.44)";
    g.fill();
    g.lineWidth = 1.8;
    g.strokeStyle = "rgba(255,165,0,0.33)";
    g.stroke();
  } else {
    g.moveTo(14, 7.6);
    g.lineTo(20.2, 20.1);
    g.lineTo(7.8, 20.1);
    g.closePath();
    g.fillStyle = "rgba(125,8,14,0.92)";
    g.fill();
    g.lineWidth = 1.5;
    g.strokeStyle = "rgba(178,34,34,0.6)";
    g.stroke();
  }
  return c;
}

type PanelProps = {
  title: string;
  blue: P[];
  yellow: P[];
  tri: P[];
  binX: number[];
  red: number[];
  black: number[];
  hi: number[];
  lo: number[];
  top: number;
};

function Panel(props: PanelProps) {
  const ref = useRef<HTMLCanvasElement | null>(null);
  useEffect(() => {
    const { title, blue, yellow, tri, binX, red, black, hi, lo } = props;
    const err: { x: number; y: number | null }[] = [];
    binX.forEach((x, i) => {
      err.push({ x, y: lo[i] }, { x, y: hi[i] }, { x, y: null });
    });
    const fixed = (size: number) => (s: any) => {
      if (s.isHorizontal()) s.height = size;
      else s.width = size;
    };
    const gridOpt = {
      display: true,
      drawOnChartArea: false,
      drawTicks: true,
      tickLength: -19,
      tickWidth: 3,
      tickColor: "#000",
    };
    const borderOpt = { display: true, color: "#262626", width: 2 };
    const setTicks = (vals: number[]) => (s: any) => {
      s.ticks = vals.map((value) => ({ value }));
    };
    const titlePlugin = {
      id: "cornerTitle",
      afterDraw(chart: any) {
        const { ctx, chartArea } = chart;
        ctx.save();
        ctx.font = `34.6px ${FONT}`;
        ctx.fillStyle = "#000";
        ctx.textAlign = "right";
        ctx.textBaseline = "alphabetic";
        ctx.fillText(title, chartArea.right - 59, chartArea.top - 11);
        ctx.restore();
      },
    };
    const chart = new Chart(ref.current!, {
      type: "scatter",
      data: {
        datasets: [
          {
            data: pts(blue),
            order: 7,
            pointStyle: "circle",
            pointRadius: 5,
            pointBorderWidth: 2.6,
            backgroundColor: "rgba(125,205,235,0.88)",
            borderColor: "rgba(160,238,242,0.85)",
          },
          {
            data: pts(yellow),
            order: 6,
            pointStyle: sprite("pentagon"),
            pointRadius: 9,
            pointBorderWidth: 0,
          },
          {
            data: pts(tri),
            order: 5,
            pointStyle: sprite("triangle"),
            pointRadius: 7,
            pointBorderWidth: 0,
          },
          {
            data: pts(zeroLine),
            order: 4,
            showLine: true,
            pointRadius: 0,
            borderColor: "#000",
            borderWidth: 4.5,
          },
          {
            data: binX.map((x, i) => ({ x, y: red[i] })),
            order: 3,
            pointRadius: 12.5,
            pointBorderWidth: 0,
            backgroundColor: "#ff0000",
          },
          {
            data: err,
            order: 2,
            showLine: true,
            borderColor: "#000",
            borderWidth: 4,
            pointStyle: "line",
            pointRadius: 12,
            pointBorderWidth: 3,
            pointBorderColor: "#000",
          },
          {
            data: binX.map((x, i) => ({ x, y: black[i] })),
            order: 1,
            pointRadius: 12.5,
            pointBorderWidth: 0,
            backgroundColor: "#000000",
          },
        ],
      },
      options: {
        responsive: false,
        devicePixelRatio: 1,
        animation: false,
        events: [],
        layout: { padding: 0 },
        plugins: { legend: { display: false }, tooltip: { enabled: false }, title: { display: false } },
        scales: {
          x: {
            type: "linear",
            position: "bottom",
            min: -0.05,
            max: 4.2,
            afterBuildTicks: setTicks(xTicks),
            afterFit: fixed(99),
            grid: gridOpt,
            border: borderOpt,
            ticks: {
              autoSkip: false,
              maxRotation: 0,
              minRotation: 0,
              padding: 22,
              color: "#000",
              font: { family: FONT, size: 35.5 },
              callback: (v: any) => Number(v).toFixed(1),
            },
            title: {
              display: true,
              text: "redshift",
              color: "#000",
              font: { family: FONT, size: 48, lineHeight: 0.92 },
              padding: { top: 0, bottom: 0 },
            },
          },
          y: {
            type: "linear",
            position: "left",
            min: -4.4,
            max: 4.4,
            afterBuildTicks: setTicks(yTicks),
            afterFit: fixed(125),
            grid: gridOpt,
            border: borderOpt,
            ticks: {
              autoSkip: false,
              padding: 29,
              labelOffset: 2,
              color: "#000",
              font: { family: FONT, size: 35.5 },
              callback: (v: any) => String(v).replace("-", "\u2212"),
            },
            title: {
              display: true,
              text: "Residuals",
              color: "#000",
              font: { family: FONT, size: 48 },
              padding: { top: 4, bottom: 0 },
            },
          },
          x2: {
            type: "linear",
            position: "top",
            min: -0.05,
            max: 4.2,
            afterBuildTicks: setTicks(xTicks),
            afterFit: fixed(54),
            grid: gridOpt,
            border: borderOpt,
            ticks: { display: false },
          },
          y2: {
            type: "linear",
            position: "right",
            min: -4.4,
            max: 4.4,
            afterBuildTicks: setTicks(yTicks),
            afterFit: fixed(17),
            grid: gridOpt,
            border: borderOpt,
            ticks: { display: false },
          },
        },
      } as any,
      plugins: [titlePlugin],
    } as any);
    return () => chart.destroy();
  }, []);
  return (
    <canvas
      ref={ref}
      width={1200}
      height={941}
      style={{ position: "absolute", left: 0, top: props.top, width: 1200, height: 941, display: "block", filter: "blur(0.45px)" }}
    />
  );
}

export default function App() {
  return (
    <div style={{ position: "absolute", left: 0, top: 0, width: 1200, height: 1903, background: "#fff", overflow: "hidden" }}>
      <Panel title={topTitle} blue={topBlue} yellow={topYellow} tri={topTri} binX={topBinX} red={topRed} black={topBlack} hi={topHi} lo={topLo} top={0} />
      <Panel title={bottomTitle} blue={botBlue} yellow={botYellow} tri={botTri} binX={botBinX} red={botRed} black={botBlack} hi={botHi} lo={botLo} top={962} />
    </div>
  );
}
